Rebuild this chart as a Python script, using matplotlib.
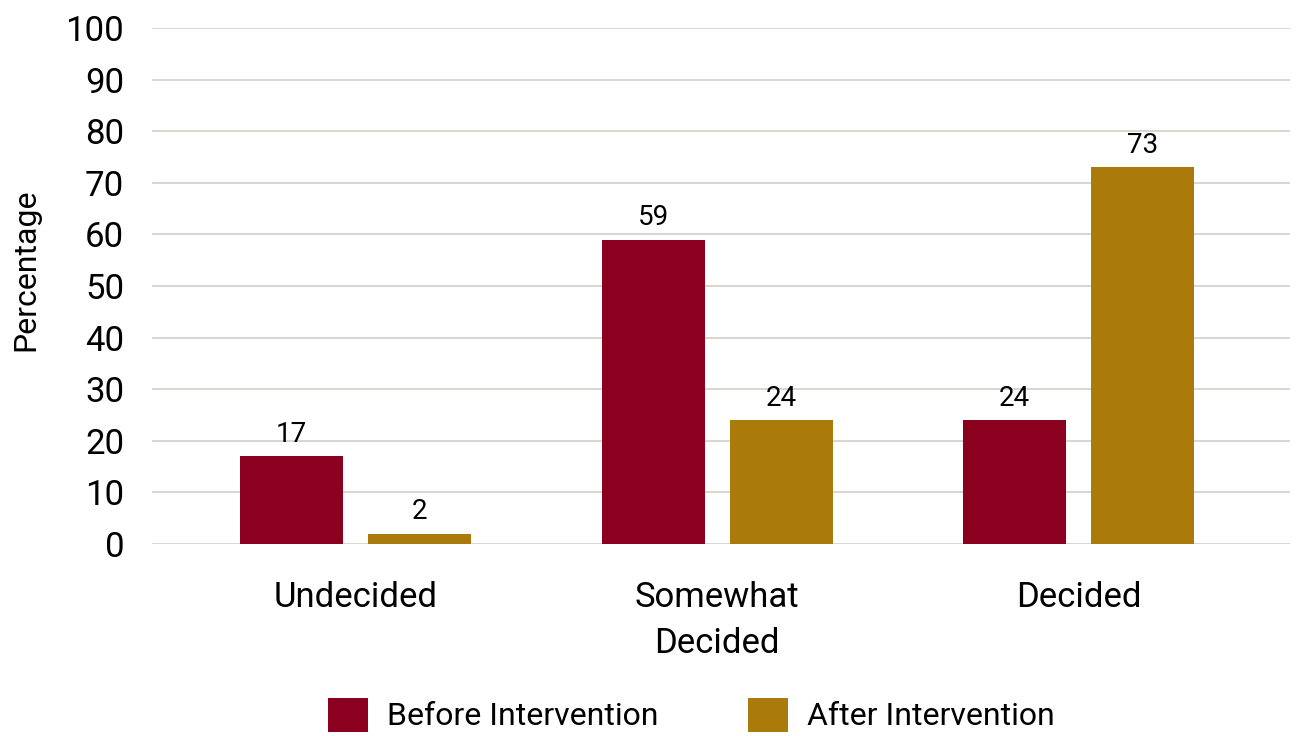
import matplotlib
matplotlib.use("Agg")
import matplotlib.pyplot as plt
import numpy as np

categories = ["Undecided", "Somewhat\nDecided", "Decided"]
before = [17, 59, 24]
after = [2, 24, 73]
series_names = ["Before Intervention", "After Intervention"]
colors = ["#8B001E", "#AA7B0A"]
yticks = list(range(0, 101, 10))

plt.rcParams['font.family'] = ['Liberation Sans Narrow', 'Roboto', 'DejaVu Sans']

fig = plt.figure(figsize=(12.99, 7.36), dpi=100)
ax = fig.add_axes([0.117, 0.261, 0.876, 0.701])

x = np.arange(len(categories))
w = 0.285
off = 0.177
b1 = ax.bar(x - off, before, w, color=colors[0], label=series_names[0], zorder=3)
b2 = ax.bar(x + off, after, w, color=colors[1], label=series_names[1], zorder=3)

for bars, vals in [(b1, before), (b2, after)]:
    for rect, v in zip(bars, vals):
        ax.annotate(str(v), (rect.get_x() + rect.get_width() / 2, rect.get_height()),
                    xytext=(0, 6), textcoords="offset points",
                    ha="center", va="bottom", fontsize=20)

ax.set_ylim(0, 100)
ax.set_xlim(-0.563, 2.584)
ax.set_yticks(yticks)
ax.set_xticks(x)
ax.set_xticklabels(categories, fontsize=25, linespacing=1.5)
ax.tick_params(axis="y", labelsize=25, length=0, pad=20)
ax.tick_params(axis="x", length=0, pad=27)
ax.grid(axis="y", color="#D6D3CB", linewidth=1.3, zorder=0)
for s in ax.spines.values():
    s.set_visible(False)
ax.set_ylabel("Percentage", fontsize=23)
ax.yaxis.set_label_coords(-0.098, 0.531)

fig.legend(loc="upper left", bbox_to_anchor=(0.2525, 0.052), ncol=2, frameon=False,
           fontsize=23, handlelength=1.25, handleheight=1.25, handletextpad=0.6,
           columnspacing=2.8, borderpad=0, borderaxespad=0)

fig.savefig("out.png", dpi=100)
